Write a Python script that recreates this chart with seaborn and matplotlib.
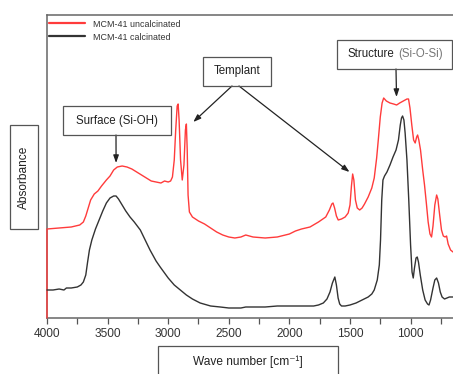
import numpy as np
import pandas as pd
import matplotlib
matplotlib.use("Agg")
import matplotlib.pyplot as plt
import matplotlib.patches as mpatches
from matplotlib.ticker import MultipleLocator
import seaborn as sns

# FTIR spectra of MCM-41 (wavenumber in cm^-1, absorbance in a.u., offset for clarity)
wn_uncalcinated = [
    4000, 4000, 3900, 3800, 3730, 3700, 3680, 3660, 3640, 3610, 3580, 3550, 3510,
    3480, 3450, 3420, 3380, 3340, 3300, 3260, 3220, 3180, 3140, 3100, 3060, 3030,
    3000, 2980, 2965, 2950, 2938, 2926, 2918, 2910, 2898, 2884, 2870, 2858, 2850,
    2843, 2836, 2825, 2800, 2750, 2700, 2650, 2600, 2550, 2500, 2450, 2400, 2360,
    2330, 2300, 2200, 2100, 2000, 1950, 1900, 1830, 1760, 1700, 1670, 1650, 1640,
    1627, 1612, 1597, 1570, 1540, 1515, 1500, 1488, 1478, 1468, 1455, 1440, 1420,
    1400, 1380, 1350, 1320, 1300, 1280, 1265, 1250, 1235, 1222, 1200, 1170, 1140,
    1115, 1090, 1060, 1030, 1017, 1005, 990, 975, 962, 950, 942, 932, 918, 900,
    885, 870, 855, 840, 827, 815, 800, 785, 775, 760, 745, 730, 715, 703, 690,
    670, 650,
]
abs_uncalcinated = [
    0.00, 0.89, 0.90, 0.91, 0.93, 0.96, 1.02, 1.10, 1.18, 1.24, 1.27, 1.32, 1.38,
    1.42, 1.48, 1.51, 1.52, 1.51, 1.49, 1.46, 1.43, 1.40, 1.37, 1.36, 1.35, 1.37,
    1.36, 1.37, 1.41, 1.58, 1.88, 2.12, 2.14, 1.98, 1.58, 1.38, 1.53, 1.88, 1.94,
    1.68, 1.23, 1.06, 1.01, 0.97, 0.94, 0.90, 0.86, 0.83, 0.81, 0.80, 0.81, 0.83,
    0.82, 0.81, 0.80, 0.81, 0.84, 0.87, 0.89, 0.91, 0.96, 1.01, 1.08, 1.14, 1.15,
    1.10, 1.02, 0.98, 0.99, 1.01, 1.05, 1.13, 1.32, 1.44, 1.38, 1.18, 1.10, 1.08,
    1.10, 1.14, 1.21, 1.30, 1.40, 1.60, 1.80, 2.01, 2.15, 2.20, 2.17, 2.15, 2.14,
    2.13, 2.15, 2.17, 2.19, 2.19, 2.10, 1.93, 1.78, 1.75, 1.81, 1.83, 1.78, 1.68,
    1.48, 1.33, 1.15, 0.96, 0.84, 0.81, 0.92, 1.13, 1.23, 1.19, 1.03, 0.88, 0.82,
    0.81, 0.82, 0.74, 0.68, 0.66,
]

wn_calcinated = [
    4000, 3950, 3900, 3860, 3840, 3800, 3750, 3720, 3700, 3680, 3665, 3650, 3630,
    3600, 3570, 3540, 3510, 3480, 3450, 3430, 3410, 3380, 3350, 3315, 3280, 3230,
    3190, 3150, 3100, 3066, 3000, 2950, 2900, 2850, 2800, 2736, 2650, 2570, 2500,
    2400, 2360, 2300, 2200, 2100, 2000, 1900, 1800, 1760, 1720, 1690, 1665, 1645,
    1625, 1612, 1598, 1585, 1570, 1540, 1500, 1450, 1400, 1350, 1320, 1300, 1275,
    1258, 1248, 1238, 1228, 1215, 1195, 1170, 1145, 1120, 1100, 1085, 1075, 1066,
    1055, 1045, 1030, 1015, 1000, 988, 978, 968, 955, 945, 935, 920, 900, 880,
    860, 848, 835, 815, 800, 785, 770, 755, 740, 720, 700, 680, 650,
]
abs_calcinated = [
    0.28, 0.28, 0.29, 0.28, 0.30, 0.30, 0.31, 0.33, 0.36, 0.43, 0.56, 0.68, 0.78,
    0.89, 0.98, 1.07, 1.15, 1.20, 1.22, 1.22, 1.19, 1.13, 1.07, 1.01, 0.96, 0.88,
    0.78, 0.68, 0.57, 0.51, 0.40, 0.33, 0.28, 0.23, 0.19, 0.15, 0.12, 0.11, 0.10,
    0.10, 0.11, 0.11, 0.11, 0.12, 0.12, 0.12, 0.12, 0.13, 0.15, 0.19, 0.26, 0.35,
    0.41, 0.33, 0.20, 0.14, 0.12, 0.12, 0.13, 0.15, 0.18, 0.21, 0.24, 0.28, 0.38,
    0.53, 0.78, 1.18, 1.38, 1.42, 1.46, 1.53, 1.61, 1.68, 1.78, 1.93, 2.00, 2.02,
    1.98, 1.85, 1.58, 1.18, 0.73, 0.46, 0.40, 0.50, 0.60, 0.61, 0.56, 0.43, 0.28,
    0.18, 0.14, 0.13, 0.18, 0.30, 0.38, 0.40, 0.35, 0.26, 0.21, 0.19, 0.20, 0.21,
    0.21,
]

series_names = ["MCM-41 uncalcinated", "MCM-41 calcinated"]
series_colors = ["#ff3b3b", "#333333"]
xticks = [4000, 3500, 3000, 2500, 2000, 1500, 1000]

df = pd.concat([
    pd.DataFrame({"wn": wn_uncalcinated, "A": abs_uncalcinated, "sample": series_names[0]}),
    pd.DataFrame({"wn": wn_calcinated, "A": abs_calcinated, "sample": series_names[1]}),
], ignore_index=True)

sns.set_style("white")
plt.rcParams["font.family"] = ["Liberation Sans", "DejaVu Sans"]

W, H = 453, 374
fig = plt.figure(figsize=(W / 100, H / 100), dpi=100)


def fx(px):
    return px / W


def fy(py):
    return 1 - py / H


ax = fig.add_axes([fx(47), fy(318), (453 - 47) / W, (318 - 15) / H])

sns.lineplot(data=df, x="wn", y="A", hue="sample", hue_order=series_names,
             palette=series_colors, estimator=None, sort=False, lw=1.0, ax=ax)
for ln in ax.get_lines():
    ln.set_zorder(3)
    ln.set_clip_on(False)

ax.set_xlim(4000, 650)
ax.set_ylim(0, 3.03)
ax.set_xticks(xticks)
ax.xaxis.set_minor_locator(MultipleLocator(250))
ax.set_yticks([])
ax.set_xlabel("")
ax.set_ylabel("")
ax.tick_params(axis="x", which="both", direction="out", length=4, width=0.9,
               color="#555555", labelsize=8.6, labelcolor="#333333", pad=3,
               bottom=True)
for side in ["left", "top", "bottom"]:
    ax.spines[side].set_color("#666666")
    ax.spines[side].set_linewidth(1.1)
ax.spines["right"].set_visible(False)

leg = ax.legend(loc="upper left", bbox_to_anchor=(0.005, 0.985), frameon=False,
                fontsize=6.4, handlelength=4.0, handletextpad=0.9,
                labelspacing=0.45, borderpad=0, borderaxespad=0)
for h in leg.get_lines():
    h.set_linewidth(1.6)
for t in leg.get_texts():
    t.set_color("#333333")


def box(x0, y0, x1, y1):
    fig.add_artist(mpatches.Rectangle((fx(x0), fy(y1)), (x1 - x0) / W, (y1 - y0) / H,
                                      transform=fig.transFigure, fill=False,
                                      ec="#555555", lw=0.9, clip_on=False))


def arrow(x_from, y_from, wn, a):
    ax.annotate("", xy=(wn, a), xycoords="data",
                xytext=(fx(x_from), fy(y_from)), textcoords="figure fraction",
                arrowprops=dict(arrowstyle="-|>,head_length=0.45,head_width=0.16",
                                color="#222222", lw=0.9, shrinkA=0, shrinkB=0))


# axis titles in boxes
box(10, 125, 38, 229)
fig.text(fx(24), fy(177), "Absorbance", rotation=90, ha="center", va="center",
         fontsize=8.6, color="#222222")
box(158, 346, 338, 380)
fig.text(fx(248), fy(362), "Wave number [cm\u207b\u00b9]", ha="center", va="center",
         fontsize=8.6, color="#222222")

# band assignments
box(63, 106, 171, 135)
fig.text(fx(117), fy(121), "Surface (Si-OH)", ha="center", va="center",
         fontsize=8.3, color="#222222")
arrow(116, 135, 3430, 1.55)

box(203, 57, 271, 86)
fig.text(fx(237), fy(71), "Templant", ha="center", va="center",
         fontsize=8.3, color="#222222")
arrow(232, 86, 2793, 1.96)
arrow(239, 86, 1504, 1.46)

box(337, 40, 452, 69)
fig.text(fx(347), fy(54), "Structure", ha="left", va="center",
         fontsize=8.3, color="#222222")
fig.text(fx(398), fy(54), "(Si-O-Si)", ha="left", va="center",
         fontsize=8.3, color="#777777")
arrow(396, 69, 1116, 2.21)

fig.savefig("out.png", dpi=100)
